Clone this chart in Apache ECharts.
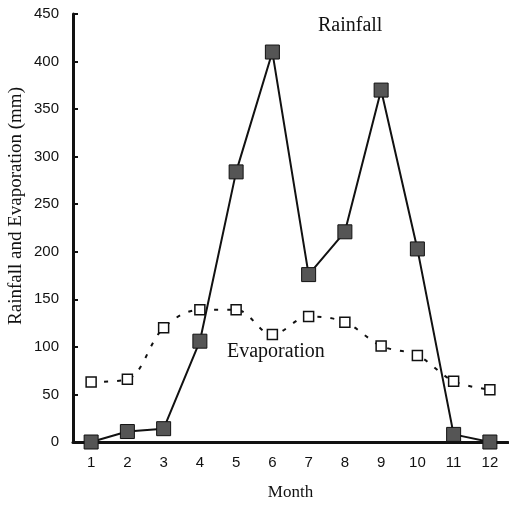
<!DOCTYPE html>
<html>
<head>
<meta charset="utf-8">
<script src="https://cdn.jsdelivr.net/npm/echarts@6/dist/echarts.min.js"></script>
<style>
  html, body { margin: 0; padding: 0; background: #fff; }
  #main { width: 509px; height: 506px; }
</style>
</head>
<body>
<div id="main"></div>
<script>
// values (mm)
var months = ['1', '2', '3', '4', '5', '6', '7', '8', '9', '10', '11', '12'];
var rainfall = [0, 11, 14, 106, 284, 410, 176, 221, 370, 203, 8, 0];
var evaporation = [63, 66, 120, 139, 139, 113, 132, 126, 101, 91, 64, 55];
var yTicks = [0, 450, 50];

var myChart = echarts.init(document.getElementById('main'));
var serif = '"Liberation Serif", "DejaVu Serif", serif';
var sans = '"Liberation Sans", Arial, sans-serif';

myChart.setOption({
    backgroundColor: '#fff',
    animation: false,
    grid: { left: 73, right: 1, top: 14, bottom: 62 },
    xAxis: {
        type: 'category',
        data: months,
        boundaryGap: true,
        name: 'Month',
        nameLocation: 'middle',
        nameGap: 42,
        nameTextStyle: { fontFamily: serif, fontSize: 17, color: '#111' },
        axisLine: { lineStyle: { color: '#111', width: 3 } },
        axisTick: { inside: true, length: 5, lineStyle: { color: '#111', width: 2 } },
        axisLabel: { fontFamily: sans, fontSize: 15, color: '#111', margin: 13 }
    },
    yAxis: {
        type: 'value',
        min: yTicks[0],
        max: yTicks[1],
        interval: yTicks[2],
        splitLine: { show: false },
        axisLine: { show: true, lineStyle: { color: '#111', width: 3 } },
        axisTick: { show: true, inside: true, length: 5, lineStyle: { color: '#111', width: 2 } },
        axisLabel: { fontFamily: sans, fontSize: 15, color: '#111', margin: 14 }
    },
    series: [{
        name: 'Rainfall',
        type: 'line',
        data: rainfall,
        clip: false,
        symbol: 'rect',
        symbolSize: 14,
        itemStyle: { color: '#555', borderColor: '#111', borderWidth: 1 },
        lineStyle: { color: '#111', width: 2 },
        z: 3
    }, {
        name: 'Evaporation',
        type: 'line',
        data: evaporation,
        smooth: 0.35,
        clip: false,
        symbol: 'rect',
        symbolSize: 10,
        itemStyle: { color: '#fff', borderColor: '#111', borderWidth: 1.5 },
        lineStyle: { color: '#111', width: 2, type: [4, 9] },
        z: 2
    }],
    graphic: [{
        type: 'text',
        x: 16,
        y: 206,
        rotation: Math.PI / 2,
        style: {
            text: 'Rainfall and Evaporation (mm)',
            fontFamily: serif, fontSize: 19, fill: '#111',
            align: 'center', verticalAlign: 'middle'
        }
    }, {
        type: 'text',
        left: 318,
        top: 16,
        style: { text: 'Rainfall', fontFamily: serif, fontSize: 20, fill: '#111' }
    }, {
        type: 'text',
        left: 227,
        top: 342,
        style: { text: 'Evaporation', fontFamily: serif, fontSize: 20, fill: '#111' }
    }]
});
</script>
</body>
</html>
